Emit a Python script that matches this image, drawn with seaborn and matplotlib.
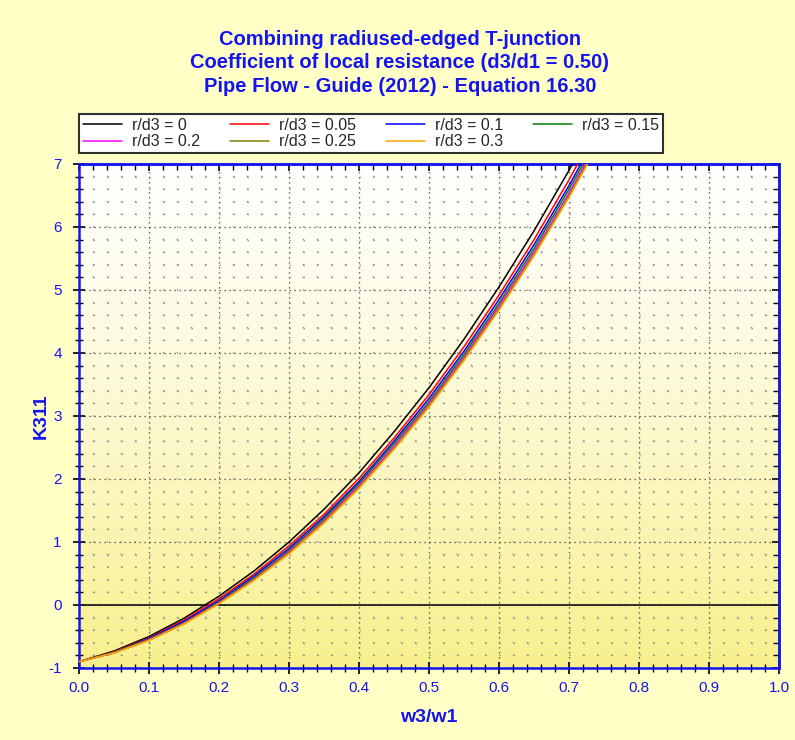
import numpy as np
import pandas as pd
import matplotlib
matplotlib.use("Agg")
import matplotlib.pyplot as plt
from matplotlib.ticker import MultipleLocator, FormatStrFormatter, NullFormatter
import seaborn as sns

# Velocity ratio w3/w1
w_ratio = [0.00, 0.05, 0.10, 0.15, 0.20, 0.25, 0.30, 0.35,
           0.40, 0.45, 0.50, 0.55, 0.60, 0.65, 0.70, 0.75]

# K311 for each edge radius ratio r/d3
k_r000 = [-0.90, -0.73, -0.50, -0.21, 0.14, 0.54, 1.00, 1.52,
          2.10, 2.75, 3.45, 4.22, 5.05, 5.94, 6.90, 7.93]
k_r005 = [-0.90, -0.74, -0.52, -0.24, 0.10, 0.49, 0.94, 1.44,
          2.01, 2.65, 3.34, 4.10, 4.92, 5.80, 6.75, 7.77]
k_r010 = [-0.90, -0.75, -0.53, -0.26, 0.07, 0.46, 0.90, 1.40,
          1.96, 2.60, 3.28, 4.03, 4.85, 5.72, 6.66, 7.67]
k_r015 = [-0.90, -0.75, -0.54, -0.28, 0.05, 0.43, 0.87, 1.37,
          1.93, 2.56, 3.23, 3.98, 4.79, 5.66, 6.60, 7.60]
k_r020 = [-0.90, -0.76, -0.55, -0.29, 0.04, 0.41, 0.85, 1.34,
          1.90, 2.52, 3.20, 3.94, 4.75, 5.61, 6.54, 7.55]
k_r025 = [-0.90, -0.76, -0.56, -0.30, 0.03, 0.40, 0.83, 1.32,
          1.87, 2.49, 3.17, 3.91, 4.71, 5.57, 6.50, 7.50]
k_r030 = [-0.90, -0.76, -0.56, -0.30, 0.02, 0.39, 0.81, 1.30,
          1.85, 2.47, 3.14, 3.88, 4.68, 5.54, 6.47, 7.47]

series_labels = ["r/d3 = 0", "r/d3 = 0.05", "r/d3 = 0.1", "r/d3 = 0.15",
                 "r/d3 = 0.2", "r/d3 = 0.25", "r/d3 = 0.3"]
series_values = [k_r000, k_r005, k_r010, k_r015, k_r020, k_r025, k_r030]
series_colors = ["#000000", "#FF0000", "#0000FF", "#008000",
                 "#FF00FF", "#808000", "#FFA500"]

x_ticks = [0.0, 0.1, 0.2, 0.3, 0.4, 0.5, 0.6, 0.7, 0.8, 0.9, 1.0]
y_ticks = [-1, 0, 1, 2, 3, 4, 5, 6, 7]

df = pd.concat(
    [pd.DataFrame({"w3/w1": w_ratio, "K311": vals, "series": lab})
     for lab, vals in zip(series_labels, series_values)],
    ignore_index=True,
)

sns.set_style("white")
plt.rcParams["font.family"] = ["Liberation Sans", "DejaVu Sans"]
plt.rcParams["axes.unicode_minus"] = False

blue = "#1414EE"
fig_bg = "#FFFFC6"

fig = plt.figure(figsize=(7.95, 7.40), dpi=100, facecolor=fig_bg)
ax = fig.add_axes([0.0994, 0.0973, 0.8806, 0.6811])

# vertical white-to-yellow shading of the plotting area
grad = np.linspace(0, 1, 256).reshape(-1, 1)
top = np.array([1.0, 1.0, 0.99])
bot = np.array([0.975, 0.94, 0.55])
shade = top + (bot - top) * grad[..., None] ** 1.3
ax.imshow(shade, extent=[0, 1, 0, 1], transform=ax.transAxes,
          aspect="auto", zorder=0, interpolation="bilinear")

sns.lineplot(data=df, x="w3/w1", y="K311", hue="series",
             hue_order=series_labels, palette=series_colors,
             linewidth=1.1, ax=ax, legend=False, zorder=3)

ax.axhline(0, color="#202020", linewidth=1.3, zorder=2)

ax.set_xlim(0, 1)
ax.set_ylim(-1, 7)
ax.set_xticks(x_ticks)
ax.set_yticks(y_ticks)
ax.xaxis.set_major_formatter(FormatStrFormatter("%.1f"))
ax.xaxis.set_minor_locator(MultipleLocator(0.02))
ax.yaxis.set_minor_locator(MultipleLocator(0.2))

# major grid: dense dots; minor grid: dots only where minor lines cross
ax.grid(which="major", color="#404040", linestyle=(0, (1, 3)), linewidth=0.9, zorder=1)
ax.xaxis.grid(True, which="minor", color="#8C8C8C",
              linestyle=(0, (1, 8.07)), linewidth=1.0, zorder=1)
ax.yaxis.grid(True, which="minor", color="#8C8C8C",
              linestyle=(0, (1, 9.08)), linewidth=1.0, zorder=1)

for side in ["left", "bottom", "top", "right"]:
    ax.spines[side].set_color(blue)
    ax.spines[side].set_linewidth(1.8)

ax.tick_params(which="major", direction="inout", length=9, width=1.2,
               color="black", labelcolor=blue, labelsize=11,
               bottom=True, left=True, top=False, right=False)
ax.tick_params(which="minor", direction="inout", length=6, width=1.0,
               color="black", bottom=True, left=True, top=False, right=False)
ax.tick_params(axis="x", which="major", pad=5)
ax.tick_params(axis="y", which="major", pad=8)

# inward-only ticks along the top and right edges
top_ax = ax.secondary_xaxis("top")
top_ax.set_xticks(x_ticks)
top_ax.xaxis.set_minor_locator(MultipleLocator(0.02))
top_ax.xaxis.set_major_formatter(NullFormatter())
top_ax.tick_params(which="major", direction="in", length=5, width=1.2, color="black", top=True)
top_ax.tick_params(which="minor", direction="in", length=4, width=1.0, color="black", top=True)
top_ax.spines["top"].set_color(blue)
top_ax.spines["top"].set_linewidth(1.8)

right_ax = ax.secondary_yaxis("right")
right_ax.set_yticks(y_ticks)
right_ax.yaxis.set_minor_locator(MultipleLocator(0.2))
right_ax.yaxis.set_major_formatter(NullFormatter())
right_ax.tick_params(which="major", direction="in", length=5, width=1.2, color="black", right=True)
right_ax.tick_params(which="minor", direction="in", length=4, width=1.0, color="black", right=True)
right_ax.spines["right"].set_color(blue)
right_ax.spines["right"].set_linewidth(1.8)

ax.set_xlabel("w3/w1", color=blue, fontsize=14, fontweight="bold", labelpad=10)
ax.set_ylabel("K311", color=blue, fontsize=14, fontweight="bold")
ax.yaxis.set_label_coords(-0.042, 0.5)

fig.text(0.503, 0.9150,
         "Combining radiused-edged T-junction\n"
         "Coefficient of local resistance (d3/d1 = 0.50)\n"
         "Pipe Flow - Guide (2012) - Equation 16.30",
         ha="center", va="center", color=blue, fontsize=14.5,
         fontweight="bold", linespacing=1.3)

# legend laid out row by row in four columns
handles = [plt.Line2D([], [], color=c, linewidth=1.1) for c in series_colors]
order = [0, 4, 1, 5, 2, 6, 3]
leg = ax.legend([handles[i] for i in order], [series_labels[i] for i in order],
                ncol=4, loc="lower left", bbox_to_anchor=(0.0, 1.0218),
                frameon=True, fancybox=False, framealpha=1.0,
                edgecolor="#303030", fontsize=11.5, handlelength=2.45,
                handletextpad=0.65, columnspacing=1.85, borderpad=0.22,
                labelspacing=0.12, borderaxespad=0.0)
leg.get_frame().set_linewidth(1.5)

fig.savefig("out.png", dpi=100, facecolor=fig_bg)
